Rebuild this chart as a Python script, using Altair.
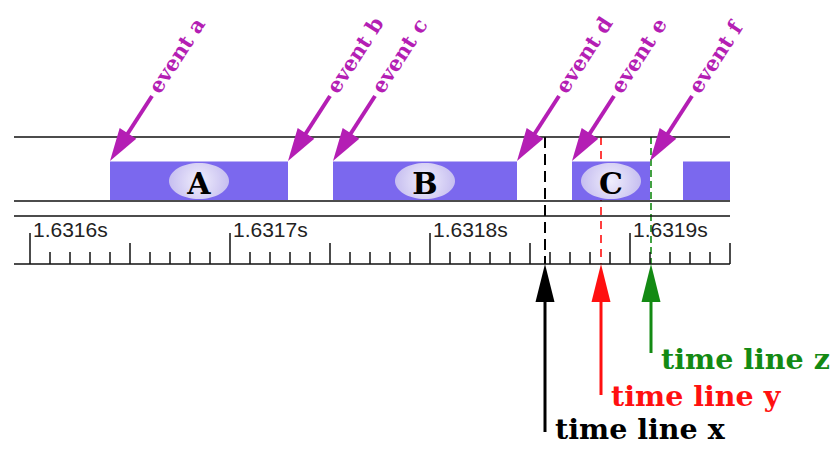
import altair as alt
import pandas as pd

# ---------------- data (time in microseconds after 1.6316 s) ----------------
TRACK_SPAN_US = [-8, 350]

SEG_NAMES = ["A", "B", "C", ""]
SEG_START_US = [40, 151.5, 271, 326.5]
SEG_END_US = [129, 243.5, 310, 350]

EVENT_NAMES = ["event a", "event b", "event c", "event d", "event e", "event f"]
EVENT_US = [40, 129, 151.5, 243.5, 271, 310]

TIMELINE_NAMES = ["time line x", "time line y", "time line z"]
TIMELINE_US = [257.5, 285.5, 310.5]
TIMELINE_COLORS = ["#000000", "#ff1010", "#138a13"]

TICK_MAJOR_US = [0, 100, 200, 300]
TICK_LABELS = ["1.6316s", "1.6317s", "1.6318s", "1.6319s"]
TICK_MID_US = [50, 150, 250, 350]
TICK_MINOR_US = [v for v in range(10, 350, 10) if v % 50]

# ---------------- layout (chart pixels) ----------------
W, H = 822, 438
X_SCALE = alt.Scale(domain=[-11, 400], nice=False, zero=False)
TOP_LINE_Y = 129
BAR_TOP, BAR_BOT = 153.5, 192
TRACK_BOT_Y = 193
RULER_TOP_Y = 208
RULER_BASE_Y = 256
MAJOR_TOP, MID_TOP, MINOR_TOP = 225, 235, 244
LABEL_BASE_Y = 229
ELLIPSE_Y = 173
SEG_LABEL_Y = 186

EV_TIP_Y = 153
EV_DX_US = 21
EV_DY = 65
EV_HEAD = "M0,0L-0.6,2L0.6,2Z"
EV_HEAD_SIZE = 1089
EV_ANGLE = 213
EV_TEXT_ANGLE = 303

TL_HEAD = "M0,0L-0.5,2L0.5,2Z"
TL_HEAD_SIZE = 1444
TL_SHAFT_TOP = 290
TL_END_Y = [424, 387, 345]
TL_TEXT_Y = [431, 398, 361]
TL_DASH = [[11, 6], [8, 6], [7, 4]]
TL_DASH_W = [2, 1.6, 1.6]

ELLIPSE = "M-1,0A1,0.6,0,1,0,1,0A1,0.6,0,1,0,-1,0Z"

MAGENTA = "#b41eb4"
BAR = "#7b68ee"
INK = "#111111"


def xenc(field):
    return alt.X(f"{field}:Q", scale=X_SCALE, axis=None)


layers = []

# time lines (dashed), drawn under the bars
for i, (name, t, col) in enumerate(zip(TIMELINE_NAMES, TIMELINE_US, TIMELINE_COLORS)):
    d = pd.DataFrame({"name": [name], "t": [t]})
    layers.append(
        alt.Chart(d).mark_rule(color=col, strokeWidth=TL_DASH_W[i], strokeDash=TL_DASH[i]).encode(
            x=xenc("t"), y=alt.value(TOP_LINE_Y), y2=alt.value(RULER_BASE_Y)
        )
    )

# horizontal lines
span = pd.DataFrame({"a": [TRACK_SPAN_US[0]], "b": [TRACK_SPAN_US[1]]})
for yy in [TOP_LINE_Y, TRACK_BOT_Y, RULER_TOP_Y, RULER_BASE_Y]:
    layers.append(
        alt.Chart(span).mark_rule(color=INK, strokeWidth=1.6).encode(
            x=xenc("a"), x2="b:Q", y=alt.value(yy)
        )
    )

# segments
seg = pd.DataFrame({"name": SEG_NAMES, "start": SEG_START_US, "end": SEG_END_US})
layers.append(
    alt.Chart(seg).mark_rect(color=BAR).encode(
        x=xenc("start"), x2="end:Q", y=alt.value(BAR_TOP), y2=alt.value(BAR_BOT)
    )
)
lab = (
    alt.Chart(seg)
    .transform_filter("datum.name != ''")
    .transform_calculate(mid="(datum.start + datum.end) / 2")
)
layers.append(
    lab.mark_point(
        shape=ELLIPSE,
        size=3600,
        filled=True,
        opacity=1,
        strokeWidth=0,
        fill=alt.Gradient(
            gradient="radial",
            stops=[
                alt.GradientStop(offset=0, color="#f0eefc"),
                alt.GradientStop(offset=1, color="#c6bef0"),
            ],
        ),
    ).encode(x=xenc("mid"), y=alt.value(ELLIPSE_Y))
)
layers.append(
    lab.mark_text(
        font="DejaVu Serif", fontWeight="bold", fontSize=30, color="#000",
        align="center", baseline="alphabetic",
    ).encode(x=xenc("mid"), y=alt.value(SEG_LABEL_Y), text="name:N")
)

# ruler ticks
for ticks, top in [(TICK_MAJOR_US, MAJOR_TOP), (TICK_MID_US, MID_TOP), (TICK_MINOR_US, MINOR_TOP)]:
    layers.append(
        alt.Chart(pd.DataFrame({"t": ticks})).mark_rule(color=INK, strokeWidth=1.5).encode(
            x=xenc("t"), y=alt.value(top), y2=alt.value(RULER_BASE_Y)
        )
    )
layers.append(
    alt.Chart(pd.DataFrame({"t": TICK_MAJOR_US, "label": TICK_LABELS})).mark_text(
        font="Liberation Sans", fontSize=21, color="#222", align="left",
        baseline="alphabetic", dx=3,
    ).encode(x=xenc("t"), y=alt.value(LABEL_BASE_Y), text="label:N")
)

# event arrows
ev = alt.Chart(pd.DataFrame({"event": EVENT_NAMES, "t": EVENT_US})).transform_calculate(
    tail=f"datum.t + {EV_DX_US}", shaft0=f"datum.t + {EV_DX_US} * 0.4"
)
layers.append(
    ev.mark_rule(color=MAGENTA, strokeWidth=4).encode(
        x=xenc("shaft0"), x2="tail:Q",
        y=alt.value(EV_TIP_Y - 0.4 * EV_DY), y2=alt.value(EV_TIP_Y - EV_DY),
    )
)
layers.append(
    ev.mark_point(
        shape=EV_HEAD, size=EV_HEAD_SIZE, angle=EV_ANGLE, filled=True,
        fill=MAGENTA, opacity=1, strokeWidth=0,
    ).encode(x=xenc("t"), y=alt.value(EV_TIP_Y))
)
layers.append(
    ev.mark_text(
        angle=EV_TEXT_ANGLE, align="left", baseline="middle", dx=5,
        font="DejaVu Serif", fontWeight="bold", fontSize=21, color=MAGENTA,
    ).encode(x=xenc("tail"), y=alt.value(EV_TIP_Y - EV_DY), text="event:N")
)

# time line arrows and labels
for i, (name, t, col) in enumerate(zip(TIMELINE_NAMES, TIMELINE_US, TIMELINE_COLORS)):
    d = alt.Chart(pd.DataFrame({"name": [name], "t": [t]}))
    layers.append(
        d.mark_rule(color=col, strokeWidth=3).encode(
            x=xenc("t"), y=alt.value(TL_SHAFT_TOP), y2=alt.value(TL_END_Y[i])
        )
    )
    layers.append(
        d.mark_point(
            shape=TL_HEAD, size=TL_HEAD_SIZE, filled=True, fill=col,
            opacity=1, strokeWidth=0,
        ).encode(x=xenc("t"), y=alt.value(RULER_BASE_Y))
    )
    layers.append(
        d.mark_text(
            align="left", baseline="alphabetic", dx=10,
            font="DejaVu Serif", fontWeight="bold", fontSize=28.5, color=col,
        ).encode(x=xenc("t"), y=alt.value(TL_TEXT_Y[i]), text="name:N")
    )

chart = (
    alt.layer(*layers)
    .properties(width=W, height=H, padding=0, autosize=alt.AutoSizeParams(type="none"),
                background="white")
    .configure_view(stroke=None)
)

chart.save("out.html", embed_options={"renderer": "svg", "actions": False})
